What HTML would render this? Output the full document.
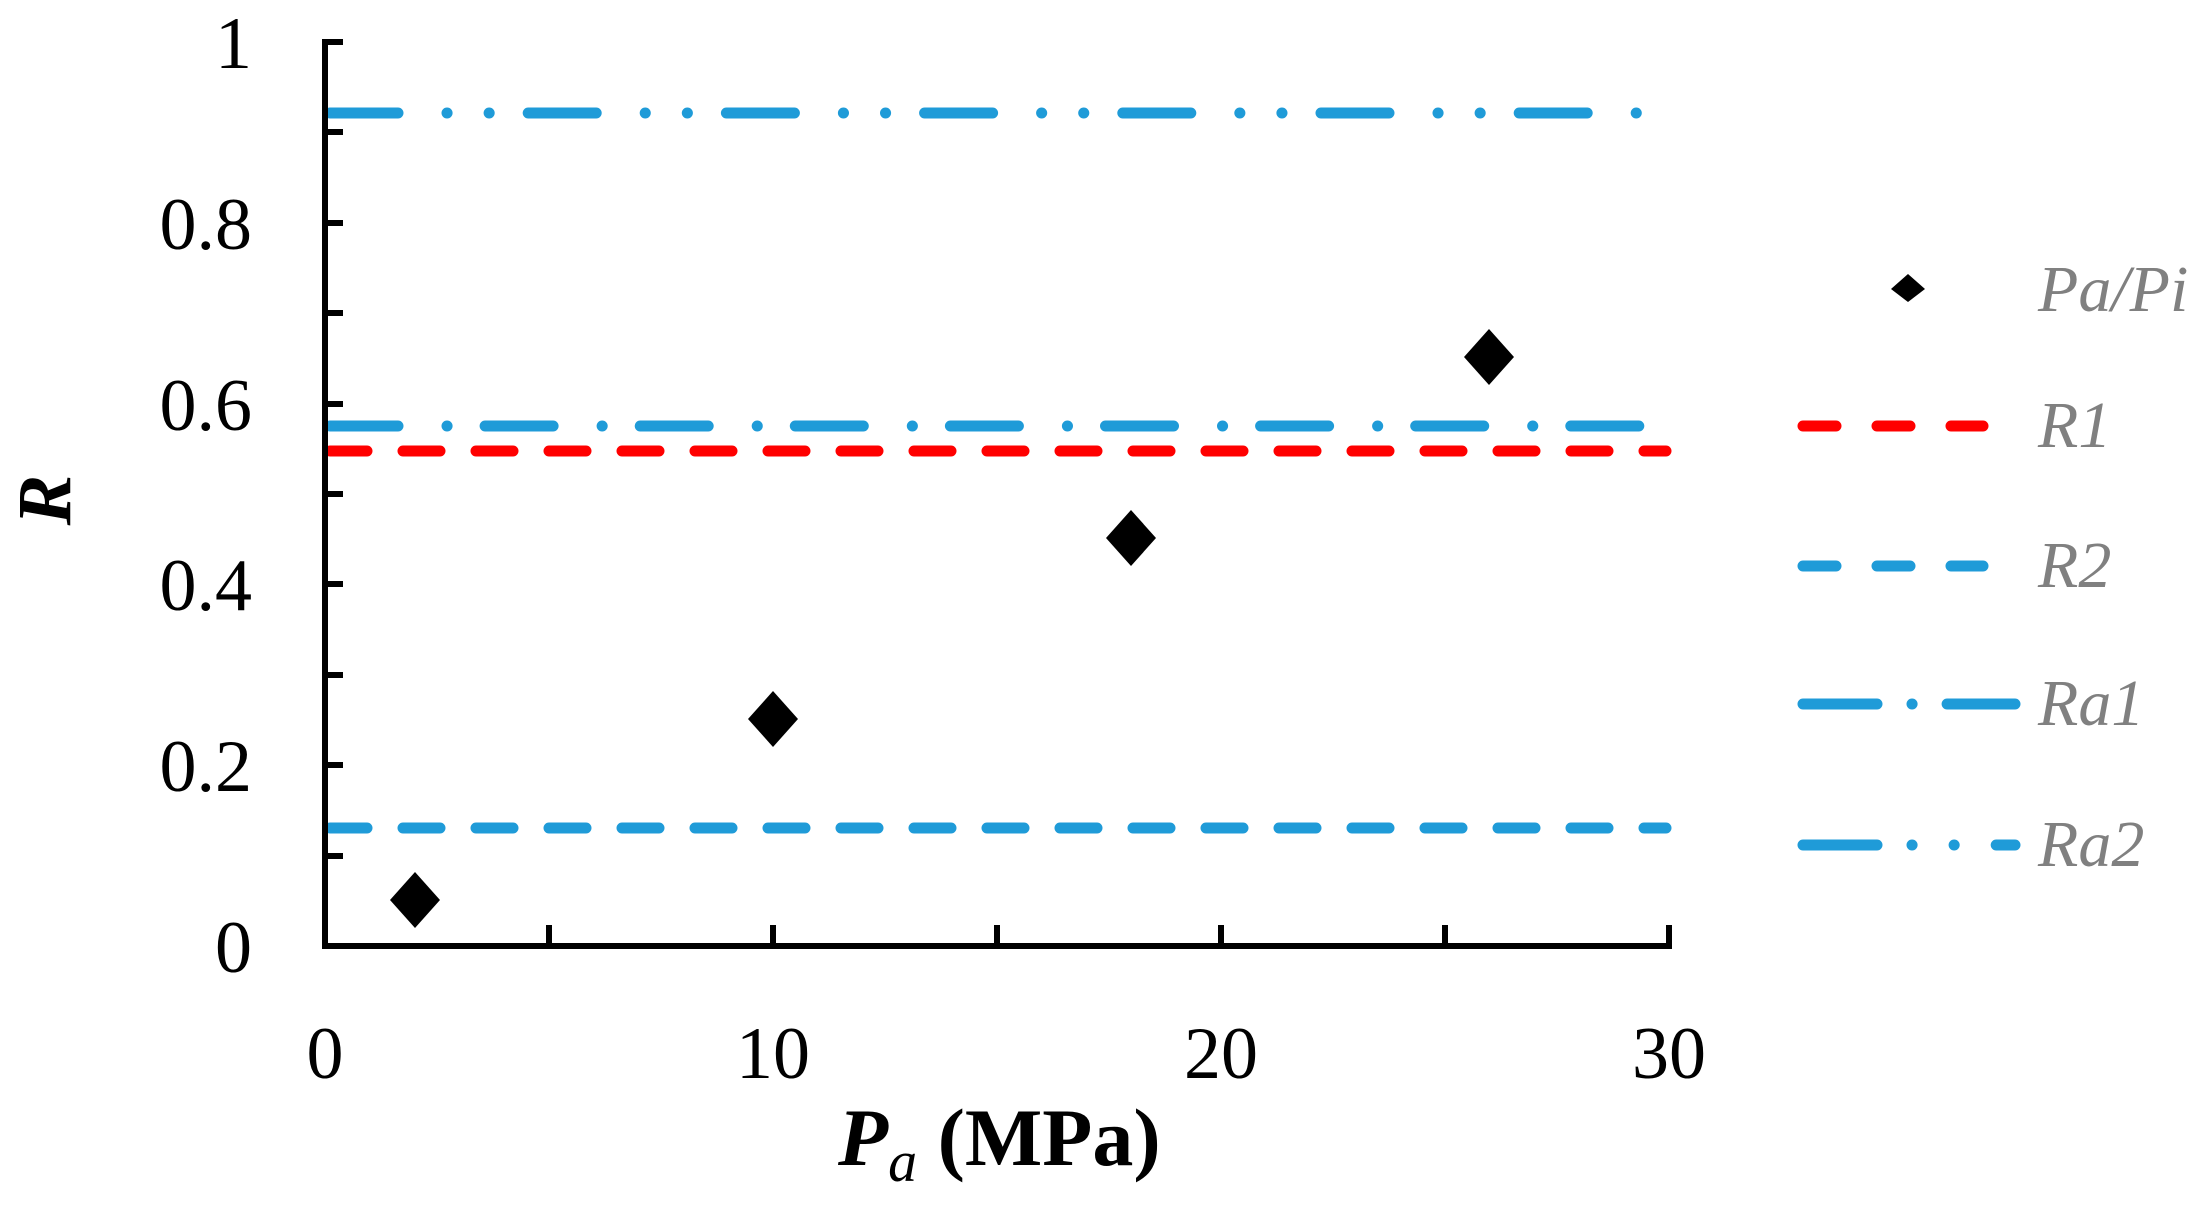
<!DOCTYPE html>
<html><head><meta charset="utf-8"><style>
html,body{margin:0;padding:0;background:#fff;}
svg{display:block;}
text{font-family:"Liberation Serif",serif;}
</style></head><body>
<svg width="2208" height="1210" viewBox="0 0 2208 1210" xmlns="http://www.w3.org/2000/svg">
<g stroke="#1f9bd8" stroke-width="11" stroke-linecap="round" fill="none">
<line x1="330" y1="113" x2="1645" y2="113" stroke-dasharray="68 49 0.1 42 0.1 39"/>
<line x1="330" y1="426" x2="1666" y2="426" stroke-dasharray="68 49 0.1 38"/>
<line x1="330" y1="828" x2="1666" y2="828" stroke-dasharray="37 36"/>
</g>
<line x1="330" y1="451" x2="1666" y2="451" stroke="#ff0000" stroke-width="11" stroke-linecap="round" stroke-dasharray="37 36"/>
<g stroke="#000" stroke-width="6" fill="none">
<line x1="325" y1="39" x2="325" y2="949"/>
<line x1="322" y1="946" x2="1672" y2="946"/>
<line x1="325" y1="42" x2="343" y2="42"/>
<line x1="325" y1="132" x2="343" y2="132"/>
<line x1="325" y1="223" x2="343" y2="223"/>
<line x1="325" y1="313" x2="343" y2="313"/>
<line x1="325" y1="404" x2="343" y2="404"/>
<line x1="325" y1="494" x2="343" y2="494"/>
<line x1="325" y1="584" x2="343" y2="584"/>
<line x1="325" y1="675" x2="343" y2="675"/>
<line x1="325" y1="765" x2="343" y2="765"/>
<line x1="325" y1="856" x2="343" y2="856"/>
<line x1="549" y1="946" x2="549" y2="925"/>
<line x1="773" y1="946" x2="773" y2="925"/>
<line x1="997" y1="946" x2="997" y2="925"/>
<line x1="1221" y1="946" x2="1221" y2="925"/>
<line x1="1445" y1="946" x2="1445" y2="925"/>
<line x1="1669" y1="946" x2="1669" y2="925"/>
</g>
<g fill="#000">
<polygon points="415,872 440,900 415,928 390,900"/>
<polygon points="773,691 798,719 773,747 748,719"/>
<polygon points="1131,510 1156,538 1131,566 1106,538"/>
<polygon points="1489,329 1514,357 1489,385 1464,357"/>
</g>
<g font-size="74" text-anchor="end" fill="#000">
<text x="252" y="68">1</text>
<text x="252" y="249">0.8</text>
<text x="252" y="430">0.6</text>
<text x="252" y="610">0.4</text>
<text x="252" y="791">0.2</text>
<text x="252" y="972">0</text>
</g>
<g font-size="74" text-anchor="middle" fill="#000">
<text x="325" y="1078">0</text>
<text x="773" y="1078">10</text>
<text x="1221" y="1078">20</text>
<text x="1669" y="1078">30</text>
</g>
<text x="838" y="1165" font-size="82" fill="#000"><tspan font-style="italic" font-weight="bold">P</tspan><tspan font-style="italic" font-size="58" dy="16">a</tspan><tspan dy="-16" font-weight="bold"> (MPa)</tspan></text>
<text transform="translate(70,500) rotate(-90)" font-size="76" font-weight="bold" font-style="italic" text-anchor="middle" fill="#000">R</text>
<polygon points="1908,274 1925,289 1908,302 1891,289" fill="#000"/>
<g stroke-width="11" stroke-linecap="round" fill="none">
<line x1="1803" y1="426" x2="1983" y2="426" stroke="#ff0000" stroke-dasharray="33 41"/>
<line x1="1803" y1="566" x2="1983" y2="566" stroke="#1f9bd8" stroke-dasharray="33 41"/>
<line x1="1803" y1="704" x2="2015" y2="704" stroke="#1f9bd8" stroke-dasharray="74 35 0.1 35"/>
<line x1="1803" y1="845" x2="2015" y2="845" stroke="#1f9bd8" stroke-dasharray="74 35 0.1 42 0.1 42"/>
</g>
<g font-size="66" font-style="italic" fill="#808080">
<text x="2038" y="311">Pa/Pi</text>
<text x="2038" y="447">R1</text>
<text x="2038" y="587">R2</text>
<text x="2038" y="725">Ra1</text>
<text x="2038" y="866">Ra2</text>
</g>
</svg>
</body></html>
